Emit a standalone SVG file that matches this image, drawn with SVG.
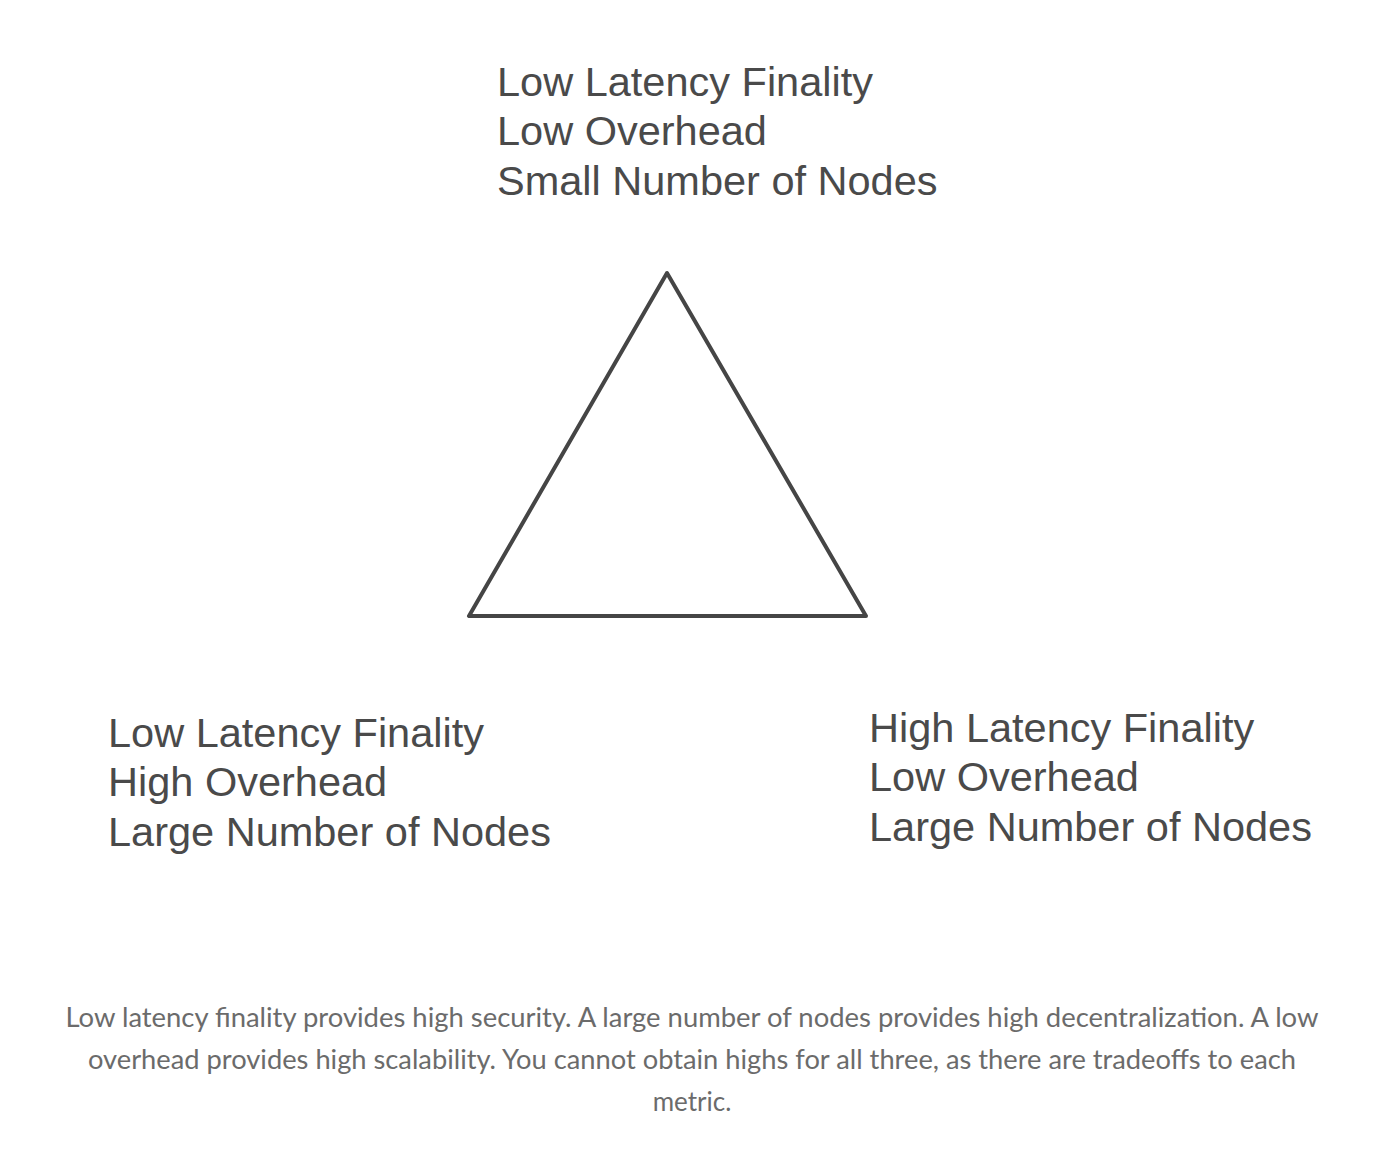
<svg xmlns="http://www.w3.org/2000/svg" width="1400" height="1160" viewBox="0 0 1400 1160">
<style>
.lbl{font-family:"Liberation Sans",Arial,sans-serif;font-size:41.5px;fill:#4a4a4a}
.cap{font-family:Lato,"Noto Sans",sans-serif;font-size:26px;fill:#6b6b6b;text-anchor:middle}
.tri{fill:none;stroke:#454545;stroke-width:4;stroke-linejoin:round}
</style>
<rect width="1400" height="1160" fill="#ffffff"/>
<g id="triangle">
<polygon class="tri" points="667,273 469,616 866,616"/>
</g>
<g id="top-label">
<text class="lbl" x="497" y="96">Low Latency Finality</text>
<text class="lbl" x="497" y="145">Low Overhead</text>
<text class="lbl" x="497" y="195">Small Number of Nodes</text>
</g>
<g id="left-label">
<text class="lbl" x="108" y="747">Low Latency Finality</text>
<text class="lbl" x="108" y="796">High Overhead</text>
<text class="lbl" x="108" y="846">Large Number of Nodes</text>
</g>
<g id="right-label">
<text class="lbl" x="869" y="742">High Latency Finality</text>
<text class="lbl" x="869" y="791">Low Overhead</text>
<text class="lbl" x="869" y="841">Large Number of Nodes</text>
</g>
<g id="connectors"></g>
<g id="caption">
<text class="cap" x="692" y="1027" textLength="1253" lengthAdjust="spacingAndGlyphs">Low latency finality provides high security. A large number of nodes provides high decentralization. A low</text>
<text class="cap" x="692" y="1069" textLength="1208" lengthAdjust="spacingAndGlyphs">overhead provides high scalability. You cannot obtain highs for all three, as there are tradeoffs to each</text>
<text class="cap" x="692" y="1111">metric.</text>
</g>
</svg>
